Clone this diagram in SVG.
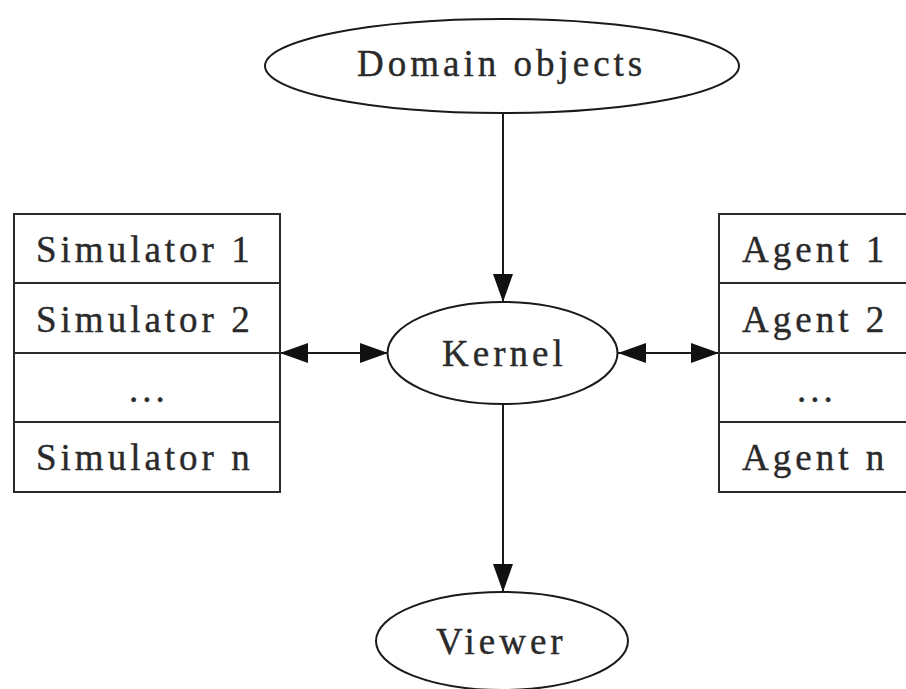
<svg xmlns="http://www.w3.org/2000/svg" width="906" height="689" viewBox="0 0 906 689">
<style>
.shape{fill:#fff;stroke:#1a1a1a;stroke-width:2}
.cell{fill:none;stroke:#2a2a2a;stroke-width:2}
.lbl{font-family:"Liberation Serif","Times New Roman",serif;font-size:37px;letter-spacing:4px;fill:#2a2a2a;stroke:#2a2a2a;stroke-width:0.4}
.edge{stroke:#1a1a1a;stroke-width:2;fill:none}
</style>
<defs>
<marker id="ah" viewBox="0 0 28 20" refX="28" refY="10" markerWidth="28" markerHeight="20" markerUnits="userSpaceOnUse" orient="auto-start-reverse">
<path d="M0,0 L28,10 L0,20 z" fill="#111"/>
</marker>
</defs>
<rect width="906" height="689" fill="#fff"/>
<g id="connectors">
<line class="edge" x1="503" y1="113" x2="503" y2="302" marker-end="url(#ah)"/>
<line class="edge" x1="280" y1="353" x2="388" y2="353" marker-start="url(#ah)" marker-end="url(#ah)"/>
<line class="edge" x1="618" y1="353" x2="719" y2="353" marker-start="url(#ah)" marker-end="url(#ah)"/>
<line class="edge" x1="503" y1="404" x2="503" y2="592" marker-end="url(#ah)"/>
</g>
<g id="domain">
<ellipse class="shape" cx="502" cy="66" rx="237" ry="47"/>
<text class="lbl" x="357" y="76">Domain objects</text>
</g>
<g id="kernel">
<ellipse class="shape" cx="502.5" cy="353" rx="115" ry="51"/>
<text class="lbl" x="442" y="366">Kernel</text>
</g>
<g id="viewer">
<ellipse class="shape" cx="502" cy="641" rx="126" ry="49"/>
<text class="lbl" x="436" y="654">Viewer</text>
</g>
<g id="simulators">
<rect class="cell" x="14" y="214" width="266" height="278"/>
<line class="cell" x1="14" y1="283" x2="280" y2="283"/>
<line class="cell" x1="14" y1="353" x2="280" y2="353"/>
<line class="cell" x1="14" y1="422" x2="280" y2="422"/>
<text class="lbl" x="36" y="262">Simulator 1</text>
<text class="lbl" x="36" y="332">Simulator 2</text>
<text class="lbl" x="129" y="402">...</text>
<text class="lbl" x="36" y="470">Simulator n</text>
</g>
<g id="agents">
<rect class="cell" x="719" y="214" width="200" height="278"/>
<line class="cell" x1="719" y1="283" x2="919" y2="283"/>
<line class="cell" x1="719" y1="353" x2="919" y2="353"/>
<line class="cell" x1="719" y1="422" x2="919" y2="422"/>
<text class="lbl" x="742" y="262">Agent 1</text>
<text class="lbl" x="742" y="332">Agent 2</text>
<text class="lbl" x="797" y="402">...</text>
<text class="lbl" x="742" y="470">Agent n</text>
</g>
</svg>
